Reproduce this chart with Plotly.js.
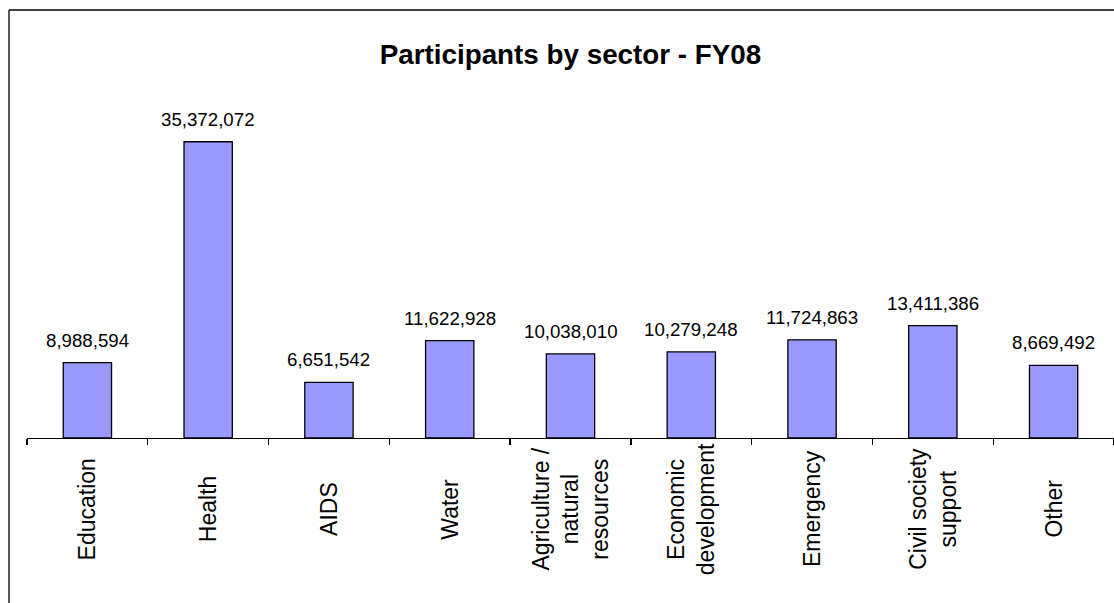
<!DOCTYPE html>
<html>
<head>
<meta charset="utf-8">
<script src="https://cdn.plot.ly/plotly-3.0.1.min.js"></script>
<style>
  html, body { margin: 0; padding: 0; background: #ffffff; }
  #chart { width: 1114px; height: 603px; }
</style>
</head>
<body>
<div id="chart"></div>
<script>
// ---- Data ----
const categories = ["Education", "Health", "AIDS", "Water", "Agriculture / natural resources",
  "Economic development", "Emergency", "Civil society support", "Other"];
const tickLabels = ["Education", "Health", "AIDS", "Water", "Agriculture /<br>natural<br>resources",
  "Economic<br>development", "Emergency", "Civil society<br>support", "Other"];
const participants = [8988594, 35372072, 6651542, 11622928, 10038010, 10279248, 11724863, 13411386, 8669492];
const chartTitle = "Participants by sector - FY08";

// ---- Layout constants ----
const W = 1114, H = 603;
const M = { l: 27, r: 0, t: 103, b: 165 };
const plotW = W - M.l - M.r, plotH = H - M.t - M.b;
const FONT = '"Liberation Sans", Arial, sans-serif';
const toPaperX = px => (px - M.l) / plotW;
const toPaperY = py => 1 - (py - M.t) / plotH;

const fmt = v => v.toLocaleString('en-US');

const valueAnnotations = categories.map((c, i) => ({
  x: c, y: participants[i], xref: 'x', yref: 'y',
  text: fmt(participants[i]), showarrow: false,
  xanchor: 'center', yanchor: 'bottom', yshift: 10,
  font: { family: FONT, size: 18.7, color: '#000000' }
}));

const labelAnnotations = categories.map((c, i) => ({
  x: c, y: toPaperY(509), xref: 'x', yref: 'paper',
  text: tickLabels[i], showarrow: false, textangle: -90,
  xanchor: 'center', yanchor: 'middle', align: 'center',
  font: { family: FONT, size: 23, color: '#000000' }
}));

const trace = {
  type: 'bar',
  x: categories,
  y: participants,
  width: 0.4,
  marker: { color: '#9999FF', line: { color: '#000000', width: 1.3 } },
  hoverinfo: 'x+y'
};

const bx = toPaperX(9), by = toPaperY(10);
const layout = {
  width: W, height: H,
  margin: M,
  paper_bgcolor: '#ffffff', plot_bgcolor: '#ffffff',
  showlegend: false,
  title: {
    text: '<b>' + chartTitle + '</b>',
    x: 0.5, xref: 'paper', xanchor: 'center',
    y: 1 - 54 / H, yref: 'container', yanchor: 'middle',
    font: { family: FONT, size: 27.8, color: '#000000' }
  },
  xaxis: {
    type: 'category',
    range: [-0.5, categories.length - 0.5],
    showticklabels: false,
    showline: true, linecolor: '#000000', linewidth: 1.3,
    ticks: 'outside', tickson: 'boundaries', ticklen: 6, tickcolor: '#000000', tickwidth: 1.3,
    showgrid: false, zeroline: false, fixedrange: true
  },
  yaxis: {
    range: [0, 40000000],
    visible: false, showgrid: false, zeroline: false, fixedrange: true
  },
  annotations: valueAnnotations.concat(labelAnnotations),
  shapes: [
    { type: 'line', xref: 'paper', yref: 'paper', x0: bx, x1: bx, y0: by, y1: -2,
      line: { color: '#000000', width: 1.3 } },
    { type: 'line', xref: 'paper', yref: 'paper', x0: bx, x1: 1.2, y0: by, y1: by,
      line: { color: '#000000', width: 1.3 } }
  ]
};

Plotly.newPlot('chart', [trace], layout, { displayModeBar: false, staticPlot: true });
</script>
</body>
</html>
